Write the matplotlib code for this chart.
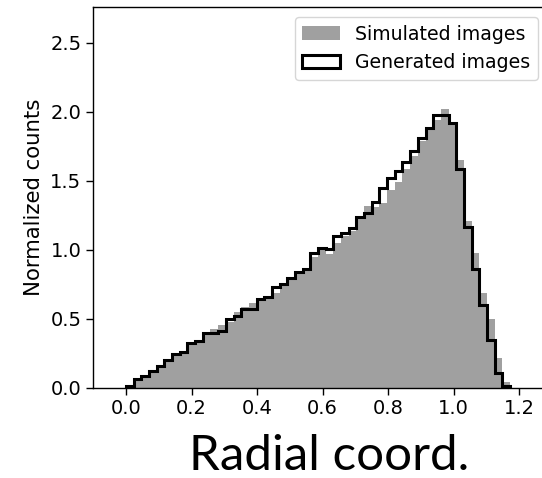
import numpy as np
import matplotlib.pyplot as plt
from matplotlib.patches import Patch

# histogram binning (50 bins between min and max of the radial coord.)
bin_lo, bin_hi, n_bins = 0.0, 1.1715, 50
edges = np.linspace(bin_lo, bin_hi, n_bins + 1)

# normalized counts per bin
simulated = [0.01, 0.05, 0.08, 0.12, 0.15, 0.19, 0.23, 0.26, 0.31, 0.34,
             0.39, 0.43, 0.46, 0.48, 0.55, 0.585, 0.614, 0.63, 0.655, 0.69,
             0.75, 0.78, 0.83, 0.86, 0.951, 1.0, 0.97, 1.05, 1.10, 1.14,
             1.23, 1.319, 1.31, 1.34, 1.435, 1.495, 1.59, 1.68, 1.79, 1.87,
             1.94, 2.02, 1.92, 1.65, 1.21, 0.98, 0.69, 0.50, 0.22, 0.04]
generated = [0.017, 0.065, 0.089, 0.125, 0.159, 0.205, 0.249, 0.263, 0.326, 0.343,
             0.399, 0.399, 0.415, 0.502, 0.519, 0.575, 0.575, 0.647, 0.657, 0.734,
             0.752, 0.794, 0.843, 0.864, 0.975, 1.018, 1.01, 1.104, 1.125, 1.162,
             1.241, 1.266, 1.345, 1.447, 1.524, 1.572, 1.638, 1.717, 1.814, 1.886,
             1.978, 1.978, 1.918, 1.587, 1.169, 0.862, 0.601, 0.348, 0.111, 0.017]

xticks = [0.0, 0.2, 0.4, 0.6, 0.8, 1.0, 1.2]
yticks = [0.0, 0.5, 1.0, 1.5, 2.0, 2.5]

fig = plt.figure(figsize=(5.42, 4.78), dpi=100)
ax = fig.add_axes([0.171, 0.1883, 0.8308, 0.7977])

ax.stairs(simulated, edges, fill=True, color='#a0a0a0')
ax.stairs(generated, edges, color='black', lw=2.2)

ax.set_xlim(-0.1016, 1.272)
ax.set_ylim(0, 2.763)
ax.set_xticks(xticks)
ax.set_yticks(yticks)
ax.tick_params(labelsize=14, length=4.7, width=1)
for s in ax.spines.values():
    s.set_linewidth(1)

ax.set_ylabel('Normalized counts', fontsize=15.3)
ax.yaxis.set_label_coords(-0.108, 0.5)
ax.set_xlabel('Radial coord.', fontsize=35.5, family='Lato', va='baseline')
ax.xaxis.set_label_coords(0.525, -0.215)

handles = [Patch(facecolor='#a0a0a0', edgecolor='none', label='Simulated images'),
           Patch(facecolor='white', edgecolor='black', lw=2.2, label='Generated images')]
ax.legend(handles=handles, loc='upper right', bbox_to_anchor=(0.989, 0.973),
          borderaxespad=0, fontsize=13.6)

fig.savefig('out.png', dpi=100)
